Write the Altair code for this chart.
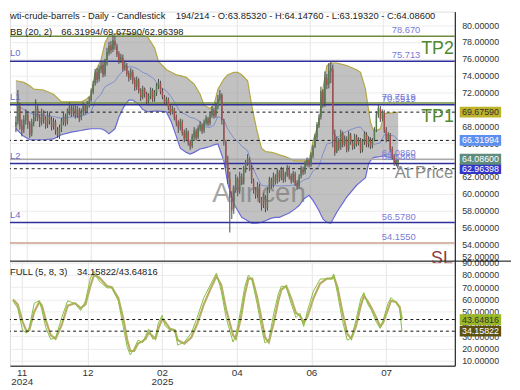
import altair as alt
import pandas as pd

# ---------------- data ----------------
opens = [
    68.0, 68.6, 70.3, 68.1, 67.6, 68.7, 69.4, 68.3, 67.1, 68.4,
    69.1, 70.1, 69.1, 68.5, 69.5, 68.9, 68.2, 69.2, 68.8, 68.0,
    68.5, 67.5, 66.9, 67.7, 68.5, 69.1, 68.5, 69.7, 70.2, 69.6,
    70.1, 69.4, 69.9, 69.0, 69.6, 70.3, 69.9, 70.5, 71.1, 72.1,
    73.1, 74.4, 73.6, 74.7, 75.3, 74.2, 75.5, 76.7, 77.6, 77.1,
    78.1, 77.5, 76.6, 75.9, 76.1, 74.9, 75.2, 74.3, 73.8, 74.4,
    73.5, 72.7, 73.4, 72.3, 71.5, 72.4, 71.9, 71.0, 71.5, 72.2,
    71.3, 71.9, 72.7, 73.1, 72.2, 71.4, 70.9, 71.2, 70.3, 69.7,
    70.0, 69.1, 68.5, 67.9, 68.5, 67.3, 66.6, 67.3, 66.1, 65.7,
    66.7, 67.4, 66.7, 67.7, 68.1, 67.5, 68.4, 68.9, 68.4, 69.3,
    69.9, 69.3, 70.3, 71.2, 71.7, 68.6, 66.1, 63.6, 61.7, 59.6,
    58.2, 60.4, 61.7, 60.3, 62.0, 61.4, 62.8, 63.6, 64.1, 63.1,
    61.5, 60.5, 59.9, 60.9, 59.3, 58.7, 59.6, 58.3, 60.4, 61.6,
    61.0, 62.0, 61.5, 62.5, 61.9, 62.8, 61.7, 62.2, 63.0, 62.1,
    61.6, 62.3, 61.3, 60.9, 62.1, 62.9, 62.6, 63.5, 63.9, 63.5,
    64.5, 65.6, 66.7, 68.1, 69.1, 72.1, 70.7, 73.7, 73.0, 74.5,
    74.8, 67.1, 65.0, 66.2, 65.5, 67.1, 65.9, 66.4, 65.3, 66.9,
    66.0, 65.6, 66.7, 66.0, 66.3, 65.2, 66.1, 67.0, 65.9, 66.4,
    65.7, 66.4, 67.5, 69.3, 70.1, 68.9, 69.6, 67.6, 66.5, 66.9,
    65.3, 64.4, 63.7, 63.8532,
]
highs = [
    69.2, 72.3, 70.8, 68.8, 69.3, 70.0, 69.8, 68.6, 68.9, 69.8,
    71.2, 70.5, 69.4, 70.1, 69.9, 69.2, 69.8, 69.6, 69.1, 69.0,
    68.8, 67.9, 68.2, 69.0, 69.6, 69.5, 70.1, 70.8, 70.5, 70.6,
    70.5, 70.4, 70.2, 70.1, 70.8, 70.6, 71.0, 71.5, 72.5, 73.4,
    74.8, 74.9, 75.2, 75.7, 75.6, 76.0, 77.3, 78.0, 78.1, 78.8,
    78.7, 77.8, 76.9, 76.6, 76.5, 75.8, 75.5, 74.6, 74.9, 74.7,
    73.8, 73.9, 73.7, 72.5, 72.8, 72.6, 72.1, 71.9, 72.6, 72.5,
    72.3, 73.1, 73.6, 73.4, 72.5, 71.7, 71.5, 71.4, 70.6, 70.4,
    70.2, 69.4, 68.7, 68.9, 68.8, 67.6, 67.8, 67.5, 66.4, 67.1,
    67.9, 67.7, 68.1, 68.6, 68.3, 68.8, 69.3, 69.1, 69.7, 70.4,
    70.2, 70.8, 71.7, 72.3, 71.9, 68.9, 66.4, 64.5, 62.6, 60.3,
    61.0, 62.3, 62.0, 62.6, 62.4, 63.3, 64.0, 64.7, 64.3, 63.4,
    61.8, 60.8, 61.4, 61.2, 59.6, 60.1, 59.8, 60.8, 62.0, 61.9,
    62.5, 62.3, 62.9, 62.8, 63.2, 63.1, 62.6, 63.4, 63.3, 62.4,
    62.7, 62.6, 61.6, 62.3, 63.3, 63.2, 63.9, 64.3, 64.2, 64.9,
    65.8, 67.1, 68.5, 69.4, 72.7, 72.4, 74.5, 74.2, 75.5, 75.7,
    75.3, 67.6, 66.8, 66.6, 67.6, 67.4, 66.9, 66.8, 67.4, 67.2,
    66.3, 67.1, 67.0, 66.7, 66.6, 66.5, 67.4, 67.3, 66.8, 66.7,
    66.6, 67.9, 69.8, 70.5, 70.4, 70.0, 69.9, 67.9, 67.3, 67.2,
    65.6, 64.7, 64.2, 64.1476,
]
lows = [
    67.3, 68.2, 67.6, 66.8, 67.2, 68.2, 67.7, 66.6, 66.8, 68.0,
    68.6, 68.6, 67.9, 68.1, 68.3, 67.7, 67.8, 68.2, 67.5, 67.6,
    67.0, 66.6, 66.5, 67.3, 68.1, 68.0, 68.2, 69.3, 69.1, 69.2,
    68.9, 69.0, 68.5, 68.7, 69.3, 69.4, 69.6, 70.2, 70.9, 71.8,
    72.8, 73.1, 73.3, 74.3, 73.8, 73.9, 75.2, 76.4, 76.6, 76.8,
    77.1, 76.2, 75.4, 75.5, 74.5, 74.6, 73.9, 73.3, 73.5, 73.0,
    72.2, 72.3, 71.9, 71.0, 71.2, 71.4, 70.6, 70.7, 71.2, 70.9,
    70.9, 71.6, 72.4, 71.8, 71.2, 70.5, 70.5, 69.9, 69.3, 69.4,
    68.7, 68.0, 67.2, 67.5, 66.9, 66.1, 66.3, 65.7, 65.2, 65.4,
    66.4, 66.3, 66.5, 67.4, 67.1, 67.2, 68.1, 68.0, 68.1, 69.0,
    68.9, 69.0, 70.0, 70.9, 68.2, 65.7, 63.0, 61.2, 55.4, 57.0,
    57.6, 60.1, 59.7, 60.0, 61.0, 61.1, 62.5, 63.3, 62.7, 61.2,
    60.0, 59.4, 59.5, 58.9, 58.0, 58.3, 57.8, 58.0, 60.1, 60.6,
    60.7, 61.1, 61.2, 61.4, 61.6, 61.3, 61.4, 62.0, 61.7, 61.2,
    61.3, 60.9, 60.5, 60.6, 61.8, 62.2, 62.3, 63.2, 63.1, 63.2,
    64.2, 65.4, 66.4, 67.8, 68.8, 70.2, 70.3, 72.4, 72.5, 73.1,
    65.5, 64.5, 64.8, 65.1, 65.2, 65.5, 65.6, 64.9, 65.0, 65.8,
    65.2, 65.3, 65.6, 65.7, 64.8, 64.9, 65.8, 65.5, 65.5, 65.3,
    65.4, 66.2, 67.3, 69.0, 68.5, 68.6, 67.2, 66.1, 66.2, 64.9,
    64.0, 63.3, 63.3, 63.1932,
]
closes = [
    68.5, 70.5, 68.0, 67.5, 68.8, 69.5, 68.2, 67.0, 68.5, 69.2,
    70.2, 69.0, 68.4, 69.6, 68.8, 68.1, 69.3, 68.7, 67.9, 68.6,
    67.4, 66.9, 67.8, 68.6, 69.2, 68.4, 69.8, 70.3, 69.5, 70.2,
    69.3, 70.0, 68.9, 69.7, 70.4, 69.8, 70.6, 71.0, 72.2, 73.0,
    74.3, 73.5, 74.8, 75.2, 74.1, 75.6, 76.8, 77.5, 77.0, 78.2,
    77.6, 76.5, 75.8, 76.2, 74.8, 75.3, 74.2, 73.7, 74.5, 73.4,
    72.6, 73.5, 72.2, 71.4, 72.5, 71.8, 70.9, 71.6, 72.3, 71.2,
    72.0, 72.8, 73.2, 72.1, 71.5, 70.8, 71.3, 70.2, 69.6, 70.1,
    69.0, 68.4, 67.8, 68.6, 67.2, 66.5, 67.4, 66.0, 65.6, 66.8,
    67.5, 66.6, 67.8, 68.2, 67.4, 68.5, 69.0, 68.3, 69.4, 70.0,
    69.2, 70.4, 71.3, 71.8, 68.7, 66.2, 63.5, 61.8, 59.5, 58.0,
    60.5, 61.8, 60.2, 62.1, 61.3, 62.9, 63.7, 64.2, 63.0, 61.6,
    60.4, 59.8, 61.0, 59.2, 58.6, 59.7, 58.2, 60.5, 61.7, 60.9,
    62.1, 61.4, 62.6, 61.8, 62.9, 61.6, 62.3, 63.1, 62.0, 61.5,
    62.4, 61.2, 60.8, 62.0, 63.0, 62.5, 63.6, 64.0, 63.4, 64.6,
    65.5, 66.8, 68.2, 69.0, 72.2, 70.6, 73.8, 72.9, 74.6, 74.9,
    67.0, 64.9, 66.3, 65.4, 67.2, 65.8, 66.5, 65.2, 67.0, 66.1,
    65.5, 66.8, 65.9, 66.4, 65.1, 66.2, 67.1, 65.8, 66.5, 65.6,
    66.3, 67.6, 69.4, 70.2, 68.8, 69.7, 67.5, 66.4, 67.0, 65.2,
    64.3, 63.6, 63.9, 64.086,
]

band_idx = [
    0, 4, 7, 9, 14, 19, 23, 28, 33, 35,
    38, 40, 43, 45, 47, 50, 52, 54.5, 57, 59,
    62, 64, 66.5, 70, 72, 76, 78.5, 81, 83, 86,
    88, 90, 93, 95, 98, 100, 102, 105, 107, 110,
    112, 114, 117, 119, 121.5, 124, 126, 129, 131, 133,
    136, 138, 141, 143, 145.5, 148, 150, 153, 155, 157,
    159, 162, 167, 172, 174, 176.5, 178, 179, 180, 181,
    184, 186, 191, 193,
]
band_upper = [
    73.4, 73.2, 72.8, 72.4, 72.3, 71.8, 70.9, 70.9, 70.9, 71.1,
    71.7, 74.4, 75.9, 77.9, 78.8, 79.0, 79.0, 79.0, 79.0, 79.0,
    78.9, 78.8, 78.6, 77.3, 75.7, 74.7, 74.4, 74.1, 74.0, 73.8,
    73.4, 73.0, 71.8, 70.5, 70.1, 70.5, 72.4, 73.6, 74.1, 74.4,
    74.4, 74.1, 73.4, 70.5, 67.7, 65.4, 65.0, 64.9, 64.8, 64.6,
    64.4, 64.2, 63.9, 63.9, 63.9, 63.9, 66.2, 68.5, 72.4, 75.2,
    75.5, 75.5, 75.2, 74.7, 74.4, 72.4, 70.0, 68.5, 67.8, 67.4,
    67.7, 69.5, 69.6, 69.6759,
]
band_lower = [
    67.7, 66.8, 66.4, 66.4, 66.4, 66.5, 67.0, 67.3, 67.5, 67.6,
    67.7, 67.7, 67.7, 67.5, 67.1, 67.7, 69.1, 70.3, 71.1, 71.1,
    70.6, 70.0, 69.7, 69.8, 69.8, 69.7, 68.5, 66.8, 65.4, 64.9,
    64.7, 64.9, 65.3, 65.4, 65.6, 65.8, 65.9, 63.9, 61.2, 58.8,
    58.0, 57.2, 56.8, 56.5, 56.5, 56.6, 56.8, 57.1, 57.2, 57.2,
    57.5, 57.7, 58.2, 58.6, 59.4, 59.8, 59.2, 58.0, 57.0, 56.6,
    56.5, 57.8, 59.6, 61.0, 61.4, 61.9, 63.5, 63.9, 64.2, 64.3,
    64.4, 64.5, 64.1, 62.96398,
]

stoch_idx = [
    1, 3.3, 5.7, 7.7, 9, 11.5, 14, 15.3, 17.2, 19.6,
    22, 25, 28, 31.6, 34.4, 36.8, 39.2, 41, 43.5, 47.4,
    49.8, 51.2, 53, 55.5, 57.4, 58.9, 60.8, 62.7, 65, 66.5,
    68, 70, 71.3, 72.7, 74.6, 76, 78.5, 80.9, 82.3, 85.6,
    89, 91.9, 95.2, 98.6, 101.4, 103.8, 106.2, 109.6, 111, 113.4,
    115.3, 117.2, 119.1, 121.5, 123.9, 125.4, 127.3, 129.7, 132, 133.5,
    135.9, 138.3, 140.7, 142.6, 144.5, 146.4, 149.3, 152.6, 156, 158.4,
    159.3, 161.2, 163.6, 166, 168, 170.3, 172.7, 174.2, 176, 178,
    180.4, 182.3, 183.7, 186.1, 187.6, 190, 191.9, 193,
]
stoch_k = [
    58.8, 53, 35, 32.5, 37, 57, 59, 51, 37, 27.6,
    28.5, 45, 59, 56.6, 51, 59, 77.5, 83, 75, 69.5,
    69.5, 64.7, 59, 37, 21, 14.8, 20, 26.8, 25, 30.5,
    36, 27.6, 28.5, 40.5, 47, 38.6, 35, 35, 22.8, 25.3,
    32.5, 45.3, 61.5, 72.5, 81.5, 67, 45.3, 25.3, 31, 51,
    69.5, 80, 75.3, 56.6, 35, 24.5, 26.8, 48.6, 64.8, 71,
    70.3, 56.6, 45.3, 48.6, 38, 51, 66.8, 76.6, 77, 77.5,
    80.7, 64.8, 43, 26.8, 28.5, 43, 60.6, 65.6, 56.6, 51,
    41.4, 36.5, 43, 56.6, 61.5, 57.5, 52.5, 34.15822,
]
stoch_d = [
    60, 56, 42, 34, 35, 50, 58, 55, 43, 31,
    28, 39, 55, 57, 53, 56, 71, 80, 78, 71,
    70, 66, 61, 44, 27, 18, 18, 24, 26, 28,
    33, 30, 28, 36, 44, 42, 36, 35, 27, 24,
    29, 40, 56, 69, 79, 72, 52, 31, 28, 44,
    63, 77, 77, 62, 42, 29, 25, 41, 59, 68,
    71, 61, 49, 47, 41, 46, 61, 73, 77, 77,
    79, 70, 50, 32, 28, 38, 55, 63, 59, 53,
    45, 38, 41, 52, 59, 58, 54, 43.64816,
]

level_prices = [78.670, 75.713, 70.7519, 70.5519, 64.0860, 63.5869, 56.5780, 54.1550]
level_kinds = ["tp", "lv", "tp", "lv", "price", "lv", "lv", "sl"]
level_texts = ["78.670", "75.713", "70.7519", "70.5519", "64.0860", "63.5869", "56.5780", "54.1550"]
level_names = ["L0", "L1", "L2", "L4"]
level_name_prices = [75.713, 70.5519, 63.5869, 56.5780]

bb_last = [69.67590, 66.31994, 62.96398]
bb_keys = ["upper", "mid", "lower"]
last_close = 64.08600
stoch_last = [43.64816, 34.15822]
stoch_keys = ["d", "k"]

price_ticks = list(range(52, 82, 2))
stoch_ticks = list(range(10, 100, 10))
tick_pos = [5.3, 37.8, 74.6, 111.5, 148.3, 185.2]
tick_month = ["11", "12", "02", "04", "06", "07"]
tick_year = ["2024", "", "2025", "", "", ""]

title_left = "wti-crude-barrels - Daily - Candlestick"
title_right = "194/214 - O:63.85320 - H:64.14760 - L:63.19320 - C:64.08600"
bb_name = "BB (20, 2)"
bb_vals = "66.31994/69.67590/62.96398"
st_name = "FULL (5, 8, 3)"
st_vals = "34.15822/43.64816"

# ---------------- tables ----------------
n = min(len(opens), len(highs), len(lows), len(closes))
candles = pd.DataFrame({"idx": list(range(n)), "open": opens[:n], "high": highs[:n],
                        "low": lows[:n], "close": closes[:n]})
band = pd.DataFrame({"idx": band_idx, "upper": band_upper, "lower": band_lower})
stoch = pd.DataFrame({"idx": stoch_idx, "k": stoch_k, "d": stoch_d})
levels = pd.DataFrame({"price": level_prices, "kind": level_kinds, "label": level_texts})
lnames = pd.DataFrame({"price": level_name_prices, "label": level_names})
bbl = pd.DataFrame({"price": bb_last, "key": bb_keys})
boxes = pd.DataFrame({"price": bb_last + [last_close], "key": bb_keys + ["close"],
                      "label": ["%.5f" % v for v in bb_last + [last_close]]})
sboxes = pd.DataFrame({"price": stoch_last, "key": stoch_keys,
                       "label": ["%.5f" % v for v in stoch_last]})

FONT = "Liberation Sans"
W, H1, H2 = 451, 253, 106
xs = alt.Scale(domain=[-0.5, 219.1], nice=False, zero=False)
ys = alt.Scale(domain=[52.0, 81.6], nice=False, zero=False)
ss = alt.Scale(domain=[6.0, 91.3], nice=False, zero=False)

x_main_axis = alt.Axis(values=tick_pos, labels=False, ticks=False, domain=False, grid=True,
                       gridColor="#e6e6e6", title=None)
y_main_axis = alt.Axis(orient="right", values=price_ticks, format=".5f",
                       labelFontSize=9, labelColor="#333", labelFont=FONT, ticks=False,
                       labelPadding=7, domainColor="#000", grid=True, gridColor="#ececec",
                       labelFlush=True, labelOverlap=False, labelBound=False, title=None)

parts = []
for p, m, yr in zip(tick_pos, tick_month, tick_year):
    lab = "['%s','%s']" % (m, yr) if yr else "'%s'" % m
    parts.append("abs(datum.value - %s) < 0.5 ? %s : " % (p, lab))
label_expr = "".join(parts) + "''"

x_st_axis = alt.Axis(values=tick_pos, labelExpr=label_expr, ticks=False, grid=True,
                     gridColor="#e6e6e6", domainColor="#000", labelFontSize=10, labelFont=FONT,
                     labelColor="#333", labelPadding=2, labelLineHeight=9, title=None,
                     labelFlush=False, labelOverlap=False)
y_st_axis = alt.Axis(orient="right", values=stoch_ticks, format=".5f",
                     labelFontSize=9, labelFont=FONT, labelColor="#333", ticks=False,
                     labelPadding=7, domainColor="#000", grid=True, gridColor="#ececec",
                     labelOverlap=False, labelBound=False, title=None)

def XM(f="idx"):
    return alt.X(f + ":Q", scale=xs, axis=x_main_axis)

def YM(f):
    return alt.Y(f + ":Q", scale=ys, axis=y_main_axis)

def XS(f="idx"):
    return alt.X(f + ":Q", scale=xs, axis=x_st_axis)

def YS(f):
    return alt.Y(f + ":Q", scale=ss, axis=y_st_axis)

def txt(s, x, y, size=9.5, color="#222", align="left", opacity=1.0):
    return alt.Chart(pd.DataFrame({"t": [s]})).mark_text(
        font=FONT, fontSize=size, color=color, align=align, baseline="middle", opacity=opacity
    ).encode(x=alt.value(x), y=alt.value(y), text="t:N")

# ---------------- main panel ----------------
area = alt.Chart(band).mark_area(color="#8e8e8e", opacity=0.55).encode(
    x=XM(), y=YM("lower"), y2="upper:Q")
upper_line = alt.Chart(band).mark_line(color="#b2a744", strokeWidth=1.2).encode(
    x=XM(), y=YM("upper"))
lower_line = alt.Chart(band).mark_line(color="#6a6ad6", strokeWidth=1.2).encode(
    x=XM(), y=YM("lower"))
mid_line = alt.Chart(band).transform_calculate(mid="(datum.upper + datum.lower) / 2").mark_line(
    color="#6f7fd4", strokeWidth=1, opacity=0.8).encode(x=XM(), y=YM("mid"))

level_rules = alt.Chart(levels).mark_rule().encode(
    y=YM("price"),
    stroke=alt.Stroke("kind:N", scale=alt.Scale(domain=["tp", "lv", "price", "sl"],
                      range=["#6f8c3e", "#2f2f9c", "#aaaaaa", "#c9a28c"]), legend=None),
    strokeWidth=alt.StrokeWidth("kind:N", scale=alt.Scale(domain=["tp", "lv", "price", "sl"],
                                range=[1.5, 1.5, 2.5, 1.5]), legend=None))
dashed = alt.Chart(bbl).mark_rule(strokeDash=[3, 3], color="#111", strokeWidth=1).encode(
    y=YM("price"))

wicks = alt.Chart(candles).mark_rule(strokeWidth=1, color="#4a4a4a").encode(
    x=XM(), y=YM("low"), y2="high:Q")
bodies = alt.Chart(candles).mark_bar(width=1.5).encode(
    x=XM(), y=YM("open"), y2="close:Q",
    color=alt.condition("datum.close >= datum.open", alt.value("#557a4e"), alt.value("#a55050")))

lv_x = [387, 387, 377, 377, 377, 377, 377, 377]
levels["lx"] = lv_x
level_labels = alt.Chart(levels).mark_text(font=FONT, fontSize=9.5, color="#7b7bd6", align="left",
                                           baseline="bottom", dy=-1).encode(
    x=alt.X("lx:Q", scale=None), y=YM("price"), text="label:N")
name_labels = alt.Chart(lnames).mark_text(font=FONT, fontSize=9.5, color="#6b6bc8", align="left",
                                          baseline="bottom", dy=-3).encode(
    x=alt.value(0), y=YM("price"), text="label:N")

box_keys = ["upper", "mid", "close", "lower"]
box_pts = alt.Chart(boxes).mark_point(shape="M-1,-0.26H1V0.26H-1Z", size=1764, filled=True,
                                      opacity=1, strokeWidth=0).encode(
    x=alt.value(477), y=YM("price"),
    fill=alt.Fill("key:N", scale=alt.Scale(domain=box_keys,
                  range=["#bdb22a", "#5d8ff0", "#5f8c7c", "#3535c8"]), legend=None))
box_txt = alt.Chart(boxes).mark_text(font=FONT, fontSize=9, align="center", baseline="middle").encode(
    x=alt.value(477), y=YM("price"), text="label:N",
    color=alt.Color("key:N", scale=alt.Scale(domain=box_keys,
                    range=["#333333", "#ffffff", "#ffffff", "#ffffff"]), legend=None))

main = alt.layer(
    area, upper_line, lower_line, mid_line, level_rules, dashed, wicks, bodies,
    level_labels, name_labels,
    txt("Arincen", 205, 185, size=28, color="#6e6e6e", opacity=0.6),
    txt("TP2", 417, 38, size=18, color="#4e8a2e"),
    txt("TP1", 417, 107, size=18, color="#4e8a2e"),
    txt("At Price", 390, 164, size=17, color="#8c8c8c"),
    txt("SL", 427, 251, size=18, color="#8b3a3a"),
    txt(title_left, 0, 5),
    txt(title_right, 168, 5),
    txt(bb_name, 0, 21),
    txt(bb_vals, 52, 21),
    box_pts, box_txt,
).resolve_scale(color="independent", fill="independent", stroke="independent").properties(
    width=W, height=H1)

# ---------------- stochastic panel ----------------
d_line = alt.Chart(stoch).mark_line(color="#b9ad66", strokeWidth=2.2).encode(x=XS(), y=YS("d"))
k_line = alt.Chart(stoch).mark_line(color="#86c03e", strokeWidth=1).encode(x=XS(), y=YS("k"))
st_dash = alt.Chart(sboxes).mark_rule(strokeDash=[3, 3], color="#111", strokeWidth=1).encode(
    y=YS("price"))
sb_pts = alt.Chart(sboxes).mark_point(shape="M-1,-0.26H1V0.26H-1Z", size=1764, filled=True,
                                      opacity=1, strokeWidth=0).encode(
    x=alt.value(477), y=YS("price"),
    fill=alt.Fill("key:N", scale=alt.Scale(domain=stoch_keys, range=["#9ab824", "#5e5212"]),
                  legend=None))
sb_txt = alt.Chart(sboxes).mark_text(font=FONT, fontSize=9, align="center", baseline="middle").encode(
    x=alt.value(477), y=YS("price"), text="label:N",
    color=alt.Color("key:N", scale=alt.Scale(domain=stoch_keys, range=["#333333", "#ffffff"]),
                    legend=None))
sep = alt.Chart(pd.DataFrame({"t": [0]})).mark_rule(color="#000", strokeWidth=1).encode(
    x=alt.value(0), x2=alt.value(W + 57), y=alt.value(0))

lower = alt.layer(
    d_line, k_line, st_dash, sb_pts, sb_txt, sep,
    txt(st_name, 0, 11),
    txt(st_vals, 68, 11),
).resolve_scale(color="independent", fill="independent").properties(width=W, height=H2)

chart = alt.vconcat(main, lower, spacing=0, padding=0, bounds="flush").configure_view(
    stroke=None, fill="white").configure_axis(labelOverlap=False).configure(font=FONT)

chart.save("out.html", embed_options={"renderer": "svg", "actions": False})
